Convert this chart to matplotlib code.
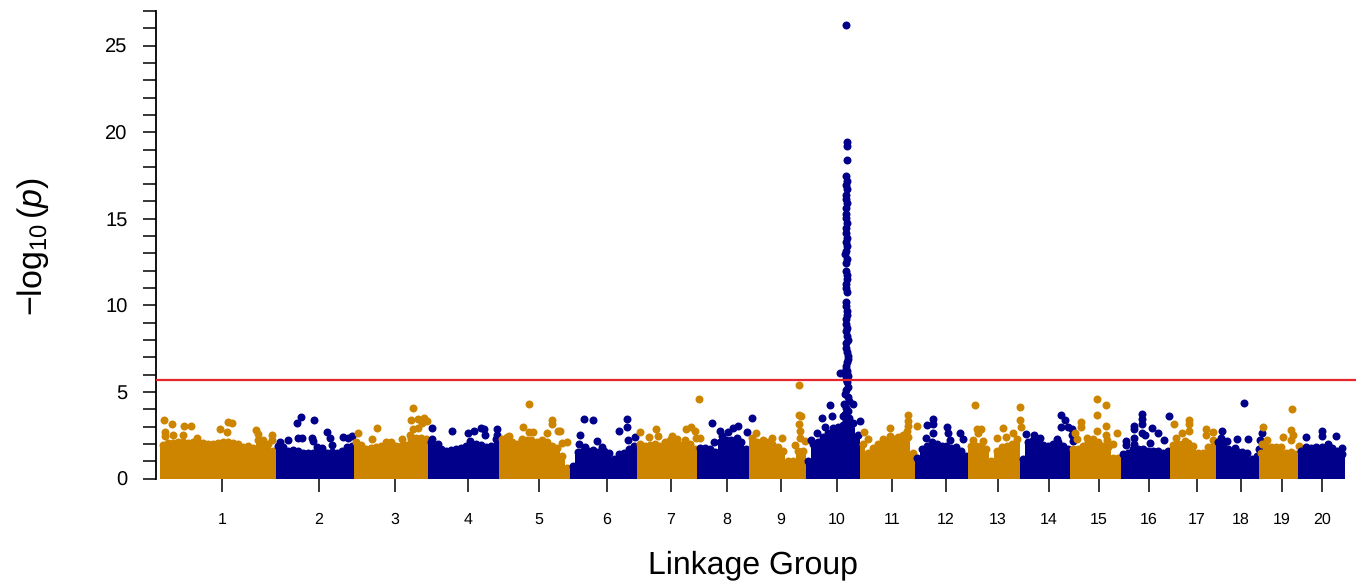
#!/usr/bin/env python
#  -*- coding: utf-8 -*-

import numpy as np
import matplotlib
matplotlib.use('Agg')
import matplotlib.pyplot as plt

plt.rcParams['font.family'] = ['Liberation Sans', 'DejaVu Sans']
plt.rcParams['mathtext.fontset'] = 'custom'
plt.rcParams['mathtext.rm'] = 'Liberation Sans'
plt.rcParams['mathtext.it'] = 'Liberation Sans:italic'
plt.rcParams['text.hinting'] = 'no_hinting'

# Linkage groups, positions along the genome axis
group_names = [str(i) for i in range(1, 21)]
group_edges = [4, 120, 198, 272, 343, 414, 481, 541, 593, 650, 704, 759, 812, 864, 914, 965, 1014, 1060, 1103, 1142, 1189]
tick_pos = [66, 163, 239, 312, 383, 451, 515, 571, 625, 681, 736, 790, 842, 893, 943, 993, 1041, 1085, 1126, 1166]
threshold = 5.7

# Height of the dense body of points, read along each group
body_tops = [
    [1.95, 2.05, 2.05, 2.1, 2.1, 2.05, 2.1, 2.1, 2.05, 2.0, 2.0, 2.05, 2.1, 2.1, 2.05, 2.0, 1.8, 1.85, 1.75, 2.2, 2.2, 2.0, 1.6],
    [1.85, 1.8, 1.6, 1.65, 1.6, 1.5, 1.5, 1.5, 1.8, 1.75, 1.45, 1.55, 1.5, 1.6, 1.8, 1.85],
    [2.1, 1.95, 1.7, 1.75, 1.8, 1.85, 2.1, 2.1, 1.9, 1.85, 1.95, 2.3, 2.35, 2.35, 2.3],
    [2.1, 1.9, 1.7, 1.6, 1.65, 1.7, 1.75, 1.9, 2.0, 2.0, 1.95, 1.8, 1.9, 2.3],
    [2.3, 2.4, 2.1, 2.0, 2.2, 2.2, 1.95, 2.1, 2.2, 2.1, 1.9, 1.75, 1.3, 0.6],
    [0.7, 1.55, 1.6, 1.6, 1.65, 1.55, 1.6, 1.5, 1.1, 1.4, 1.5, 1.7, 1.85],
    [2.0, 1.9, 1.95, 2.0, 1.85, 2.1, 2.2, 2.2, 1.95, 2.0, 2.0, 1.7],
    [1.75, 1.75, 1.7, 1.55, 2.1, 2.2, 2.2, 2.2, 2.1, 1.7],
    [2.35, 2.1, 2.0, 2.1, 2.0, 1.8, 1.6, 1.0, 1.0, 1.6, 1.6],
    [1.0, 2.0, 2.1, 2.4, 2.65, 2.9, 3.0, 3.1, 3.1, 3.2, 2.5],
    [2.0, 1.5, 1.75, 2.0, 2.0, 2.15, 2.3, 2.4, 2.5, 2.4, 1.5],
    [1.2, 1.7, 1.85, 2.1, 2.0, 1.85, 1.9, 1.75, 1.8, 1.6, 1.3],
    [1.9, 1.85, 1.9, 1.7, 1.0, 1.6, 1.8, 1.9, 2.0, 2.3],
    [1.1, 2.1, 2.2, 2.1, 1.95, 1.9, 2.0, 2.1, 1.9, 1.7],
    [1.7, 1.7, 1.9, 2.1, 2.3, 2.1, 1.9, 1.8, 1.2, 1.2],
    [1.4, 1.5, 1.7, 1.7, 1.7, 1.6, 1.6, 1.6, 1.5, 1.6],
    [1.95, 2.0, 2.0, 2.05, 1.9, 1.5, 1.5, 1.8, 1.9],
    [2.1, 2.0, 1.7, 1.5, 1.55, 1.55, 1.5, 1.1, 1.3],
    [1.5, 1.8, 1.8, 1.8, 1.8, 1.5, 1.55, 1.4],
    [1.6, 1.8, 1.75, 1.8, 1.8, 1.8, 1.75, 1.6, 1.4],
]

# Points standing clear of the body, per group
high_x = [
    [8, 16.3, 27.7, 35, 9, 17.3, 27.3, 40.7, 64, 72.3, 76.3, 71.3, 100, 116.3, 102, 115.7, 9],
    [145, 140.7, 158, 142, 146.3, 132.3, 124, 155.7, 157.3, 171, 174, 175.7, 187.3, 195.7, 192.3],
    [202.3, 221, 216.3, 245.7, 256.7, 255, 261.7, 267.7, 270.7, 265.7, 256.7, 262.3, 254],
    [275.7, 296.3, 275.7, 282.3, 312.3, 318.3, 325, 328.3, 329, 340.7, 340.7, 314],
    [373.3, 367.3, 373.3, 377.3, 395.7, 395.7, 390.7, 401.7, 365.7, 353.3, 374.7, 404, 410.7, 405.7],
    [428.3, 437.3, 471.3, 470.7, 463, 424, 423.3, 441.3, 445.7, 471.7, 479, 429],
    [484, 500, 493.3, 502.3, 534.7, 529.7, 539, 543.3, 544, 515.7, 520.7, 529, 540],
    [556.3, 564, 581.7, 577.3, 572.3, 596, 590.7, 565.7, 558, 580.7],
    [643, 643, 644.7, 643.3, 644, 600, 625.7, 616.3, 607.3, 644, 649, 639],
    [673.7, 665.7, 675.7, 660.7, 669, 654.7, 667.3, 704, 697.3, 689],
    [751.7, 752.3, 752.3, 761, 734, 734, 708, 712.3, 727.3, 750.7],
    [777.3, 771, 777.3, 790.7, 791.7, 777.3, 769.7, 804, 807.3, 794],
    [819.3, 820.7, 824.7, 822.3, 847.3, 840.7, 849.7, 857.3, 863.7, 864, 865, 827.3, 816.7],
    [905, 909.3, 905, 912.3, 915.7, 869.7, 878, 884, 900.7, 915.7, 917.3],
    [940.7, 949.7, 940.7, 950, 924.7, 924.7, 919, 921.3, 940.7, 960.7, 950, 930.7, 950.7, 957.3],
    [985.7, 985.7, 985.7, 978, 978, 985.7, 996, 1002.3, 1013, 978, 978, 969.7, 989, 1008, 994, 969.7],
    [1018, 1033, 1033, 1033, 1025.7, 1050, 1050, 1057.3, 1020, 1056.7, 1029],
    [1087.7, 1065.7, 1065, 1070.7, 1080.7, 1092.3, 1105.7, 1104, 1103.3, 1079],
    [1136, 1107.3, 1134.7, 1127.3, 1137.3, 1135, 1110.7, 1106.3, 1143],
    [1150, 1166, 1166, 1179.7, 1185.7, 1172.3],
]
high_y = [
    [3.35, 3.12, 3.03, 3.06, 2.68, 2.5, 2.54, 2.35, 2.87, 3.28, 3.22, 2.68, 2.79, 2.54, 2.55, 2.25, 2.45],
    [3.55, 3.22, 3.37, 2.35, 2.35, 2.25, 2.1, 2.35, 2.15, 2.7, 2.35, 1.96, 2.39, 2.45, 2.35],
    [2.6, 2.89, 2.27, 2.29, 4.05, 3.39, 3.41, 3.5, 3.31, 3.2, 2.87, 2.93, 2.54],
    [2.93, 2.75, 2.29, 2.02, 2.6, 2.75, 2.93, 2.83, 2.49, 2.87, 2.54, 2.15],
    [4.3, 2.99, 2.66, 2.68, 3.37, 3.12, 2.6, 2.77, 2.29, 2.45, 2.2, 2.77, 2.12, 2.06],
    [3.41, 3.35, 3.41, 2.97, 2.77, 2.5, 2.02, 2.14, 1.83, 2.2, 2.39, 1.83],
    [2.68, 2.87, 2.39, 2.45, 2.99, 2.83, 2.74, 4.6, 2.35, 2.45, 2.31, 2.2, 2.35],
    [3.18, 2.77, 3.06, 2.93, 2.68, 3.47, 2.68, 2.45, 2.12, 2.35],
    [5.38, 3.66, 3.6, 3.16, 2.74, 2.64, 2.35, 2.35, 2.25, 2.35, 2.16, 1.91],
    [4.26, 3.47, 3.6, 2.64, 2.97, 2.2, 2.16, 3.31, 4.32, 3.6],
    [3.66, 3.31, 3.03, 3.03, 2.89, 2.45, 2.7, 2.31, 2.29, 2.74],
    [3.45, 3.1, 3.12, 2.97, 2.6, 2.64, 2.35, 2.6, 2.29, 2.25],
    [4.24, 2.83, 2.83, 2.64, 2.91, 2.35, 2.39, 2.6, 4.12, 3.35, 2.99, 2.16, 2.2],
    [3.64, 3.39, 2.95, 2.99, 2.87, 2.58, 2.5, 2.35, 2.29, 2.5, 2.16],
    [4.59, 4.24, 3.64, 3.06, 3.29, 2.95, 2.64, 2.31, 2.77, 2.64, 2.54, 2.35, 2.25, 1.97],
    [3.74, 3.41, 3.12, 3.03, 2.83, 2.64, 2.91, 2.64, 3.6, 2.35, 2.02, 2.16, 2.54, 2.2, 2.06, 1.91],
    [3.14, 3.35, 3.16, 2.74, 2.64, 2.87, 2.54, 2.68, 2.35, 2.2, 2.16],
    [4.35, 2.75, 2.35, 2.16, 2.29, 2.29, 2.64, 2.25, 1.68, 1.77],
    [4.03, 3.0, 2.81, 2.41, 2.54, 2.2, 2.2, 1.97, 1.87],
    [2.39, 2.74, 2.45, 2.45, 1.77, 1.97],
]

# The peak on group 10
peak_x = [690, 690.5, 690.5, 690.5, 690, 690.5, 689.5, 691, 690, 689.5, 690.5, 690, 689.5, 690, 690.5, 690, 689.5, 690.5,
          690, 691, 690, 689, 690.5, 690, 689.5, 690.5, 691, 690, 689.5, 690.5, 690, 689.5, 691, 690.5, 690, 689.5, 690.5,
          690, 691, 691.5, 690, 689.5, 690.5, 691.5, 692, 691, 690, 689.5, 690.5, 691, 691.5, 690, 688.5, 689, 691, 692,
          690, 684, 687, 689, 692, 693, 688, 690, 692, 689, 693, 687, 690, 692, 688, 691]
peak_y = [26.2, 19.45, 19.2, 18.4, 17.45, 17.2, 16.95, 16.7, 16.4, 16.15, 15.9, 15.6, 15.3, 15.05, 14.75, 14.45, 14.2, 13.9,
          13.65, 13.4, 13.15, 12.95, 12.7, 12.45, 12.0, 11.75, 11.5, 11.25, 11.0, 10.75, 10.2, 9.95, 9.7, 9.45, 9.2, 8.95, 8.7,
          8.5, 8.25, 8.0, 7.8, 7.55, 7.3, 7.1, 6.9, 6.7, 6.5, 6.35, 6.2, 6.05, 5.9, 5.75, 6.1, 6.05, 5.55, 5.3,
          5.1, 6.1, 6.1, 4.9, 4.7, 4.5, 4.3, 4.1, 3.9, 3.7, 3.5, 3.6, 3.3, 3.2, 3.1, 3.4]

navy = '#00008B'
orange = '#CD8500'
red = '#E6262B'
dot_size = 33

fig = plt.figure(figsize=(13.61, 5.81), dpi=100)
ax = fig.add_axes([156 / 1361, (581 - 478.5) / 581, 1200 / 1361, 467.5 / 581])

for i in range(len(group_names)):
    col = orange if i % 2 == 0 else navy
    tops = np.array(body_tops[i])
    edges = np.linspace(group_edges[i], group_edges[i + 1], len(tops) + 1)
    centers = (edges[:-1] + edges[1:]) / 2
    ax.bar(centers, tops, width=edges[1] - edges[0], color=col, linewidth=0, zorder=2 + i)
    ax.scatter(centers, tops, s=dot_size, color=col, linewidths=0, zorder=2 + i)
    ax.scatter(high_x[i], high_y[i], s=dot_size, color=col, linewidths=0, zorder=2 + i)
    if group_names[i] == '10':
        ax.scatter(peak_x, peak_y, s=dot_size, color=col, linewidths=0, zorder=2 + i)

ax.axhline(threshold, color=red, linewidth=1.6, zorder=30)

ax.set_xlim(0, 1200)
ax.set_ylim(0, 27)
for side in ['top', 'right', 'bottom']:
    ax.spines[side].set_visible(False)
ax.spines['left'].set_linewidth(1.3)

ax.set_yticks(range(0, 30, 5))
ax.set_yticks(range(0, 28), minor=True)
ax.tick_params(axis='y', which='both', length=9.5, width=1.1, direction='out')
ax.tick_params(axis='y', which='major', labelsize=14.5, pad=11)
ax.set_xticks(tick_pos)
ax.set_xticklabels(group_names)
ax.tick_params(axis='x', length=9.5, width=1.1, direction='out', labelsize=11.5, pad=15)

fig.text(753 / 1361, 1 - 565 / 581, 'Linkage Group', fontsize=23, ha='center', va='center')
fig.text(33 / 1361, 1 - 246 / 581, r'$-\log_{10}(\mathit{p})$', fontsize=24.5, rotation=90, ha='center', va='center')

fig.savefig('out.png', dpi=100)
